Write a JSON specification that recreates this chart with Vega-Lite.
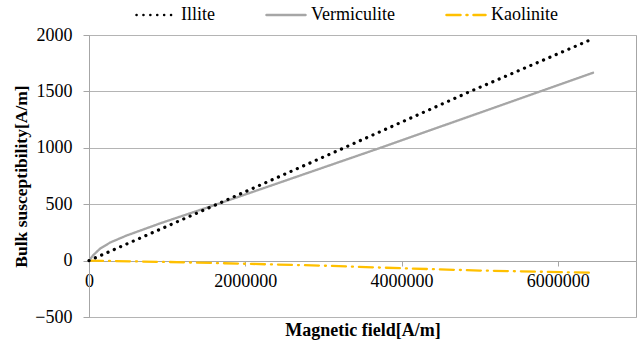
{
  "$schema": "https://vega.github.io/schema/vega-lite/v6.json",
  "width": 547,
  "height": 282,
  "autosize": {"type": "none"},
  "padding": {"left": 89, "top": 35, "right": 6, "bottom": 30},
  "background": "white",
  "config": {
    "font": "Liberation Serif",
    "view": {"stroke": "#A6A6A6", "strokeWidth": 1}
  },
  "data": {
    "values": [
      {"H": 0, "chi": 0, "mineral": "Illite"},
      {"H": 1640000, "chi": 500, "mineral": "Illite"},
      {"H": 3200000, "chi": 980, "mineral": "Illite"},
      {"H": 4880000, "chi": 1500, "mineral": "Illite"},
      {"H": 6410000, "chi": 1955, "mineral": "Illite"},
      {"H": 0, "chi": 0, "mineral": "Vermiculite"},
      {"H": 50000, "chi": 45, "mineral": "Vermiculite"},
      {"H": 140000, "chi": 105, "mineral": "Vermiculite"},
      {"H": 270000, "chi": 160, "mineral": "Vermiculite"},
      {"H": 480000, "chi": 222, "mineral": "Vermiculite"},
      {"H": 910000, "chi": 330, "mineral": "Vermiculite"},
      {"H": 1640000, "chi": 500, "mineral": "Vermiculite"},
      {"H": 3730000, "chi": 1000, "mineral": "Vermiculite"},
      {"H": 6450000, "chi": 1665, "mineral": "Vermiculite"},
      {"H": 0, "chi": 0, "mineral": "Kaolinite"},
      {"H": 1000000, "chi": -12, "mineral": "Kaolinite"},
      {"H": 2000000, "chi": -28, "mineral": "Kaolinite"},
      {"H": 3000000, "chi": -45, "mineral": "Kaolinite"},
      {"H": 4000000, "chi": -68, "mineral": "Kaolinite"},
      {"H": 5000000, "chi": -88, "mineral": "Kaolinite"},
      {"H": 6450000, "chi": -108, "mineral": "Kaolinite"}
    ]
  },
  "encoding": {
    "x": {
      "field": "H", "type": "quantitative",
      "scale": {"domain": [0, 7000000], "nice": false, "zero": true},
      "axis": {
        "values": [0, 2000000, 4000000, 6000000],
        "format": "d",
        "offset": -56,
        "grid": false,
        "domainColor": "#A6A6A6",
        "tickColor": "#A6A6A6",
        "tickSize": 5,
        "labelFont": "Liberation Serif",
        "labelFontSize": 18,
        "labelColor": "#000000",
        "labelPadding": 6,
        "labelFlush": false,
        "title": "Magnetic field[A/m]",
        "titleFont": "Liberation Serif",
        "titleFontSize": 18,
        "titleFontWeight": "bold",
        "titleColor": "#000000",
        "titleY": 69,
        "titleBaseline": "middle"
      }
    },
    "y": {
      "field": "chi", "type": "quantitative",
      "scale": {"domain": [-500, 2000], "nice": false},
      "axis": {
        "values": [-500, 0, 500, 1000, 1500, 2000],
        "format": "d",
        "grid": true,
        "gridColor": "#B4B4B4",
        "domainColor": "#A6A6A6",
        "tickColor": "#A6A6A6",
        "tickSize": 6,
        "labelFont": "Liberation Serif",
        "labelFontSize": 18,
        "labelColor": "#000000",
        "labelPadding": 11,
        "title": "Bulk susceptibility[A/m]",
        "titleFont": "Liberation Serif",
        "titleFontSize": 17.5,
        "titleFontWeight": "bold",
        "titleColor": "#000000",
        "titlePadding": 4
      }
    },
    "color": {
      "field": "mineral", "type": "nominal",
      "scale": {"domain": ["Illite", "Vermiculite", "Kaolinite"], "range": ["#000000", "#A6A6A6", "#FFC000"]},
      "legend": {
        "orient": "none",
        "legendX": 46,
        "legendY": -41,
        "padding": 0,
        "direction": "horizontal",
        "title": null,
        "symbolType": "stroke",
        "symbolSize": 1521,
        "symbolStrokeWidth": 2.5,
        "labelFont": "Liberation Serif",
        "labelFontSize": 18,
        "labelColor": "#000000",
        "labelOffset": 4,
        "columnPadding": 46,
        "encode": {"symbols": {"update": {"strokeCap": {"value": "round"}}}}
      }
    },
    "strokeDash": {
      "field": "mineral", "type": "nominal",
      "scale": {"domain": ["Illite", "Vermiculite", "Kaolinite"], "range": [[0.1, 6.8], [1, 0], [14, 6, 1, 6]]},
      "legend": {
        "orient": "none",
        "legendX": 46,
        "legendY": -41,
        "padding": 0,
        "direction": "horizontal",
        "title": null,
        "symbolType": "stroke",
        "symbolSize": 1521,
        "symbolStrokeWidth": 2.5,
        "labelFont": "Liberation Serif",
        "labelFontSize": 18,
        "labelColor": "#000000",
        "labelOffset": 4,
        "columnPadding": 46,
        "encode": {"symbols": {"update": {"strokeCap": {"value": "round"}}}}
      }
    }
  },
  "layer": [
    {
      "transform": [{"filter": "datum.mineral === 'Kaolinite'"}],
      "mark": {"type": "line", "strokeCap": "round", "strokeWidth": 2.3}
    },
    {
      "transform": [{"filter": "datum.mineral === 'Vermiculite'"}],
      "mark": {"type": "line", "strokeCap": "round", "strokeWidth": 2.3}
    },
    {
      "transform": [{"filter": "datum.mineral === 'Illite'"}],
      "mark": {"type": "line", "strokeCap": "round", "strokeWidth": 3.2}
    }
  ]
}
